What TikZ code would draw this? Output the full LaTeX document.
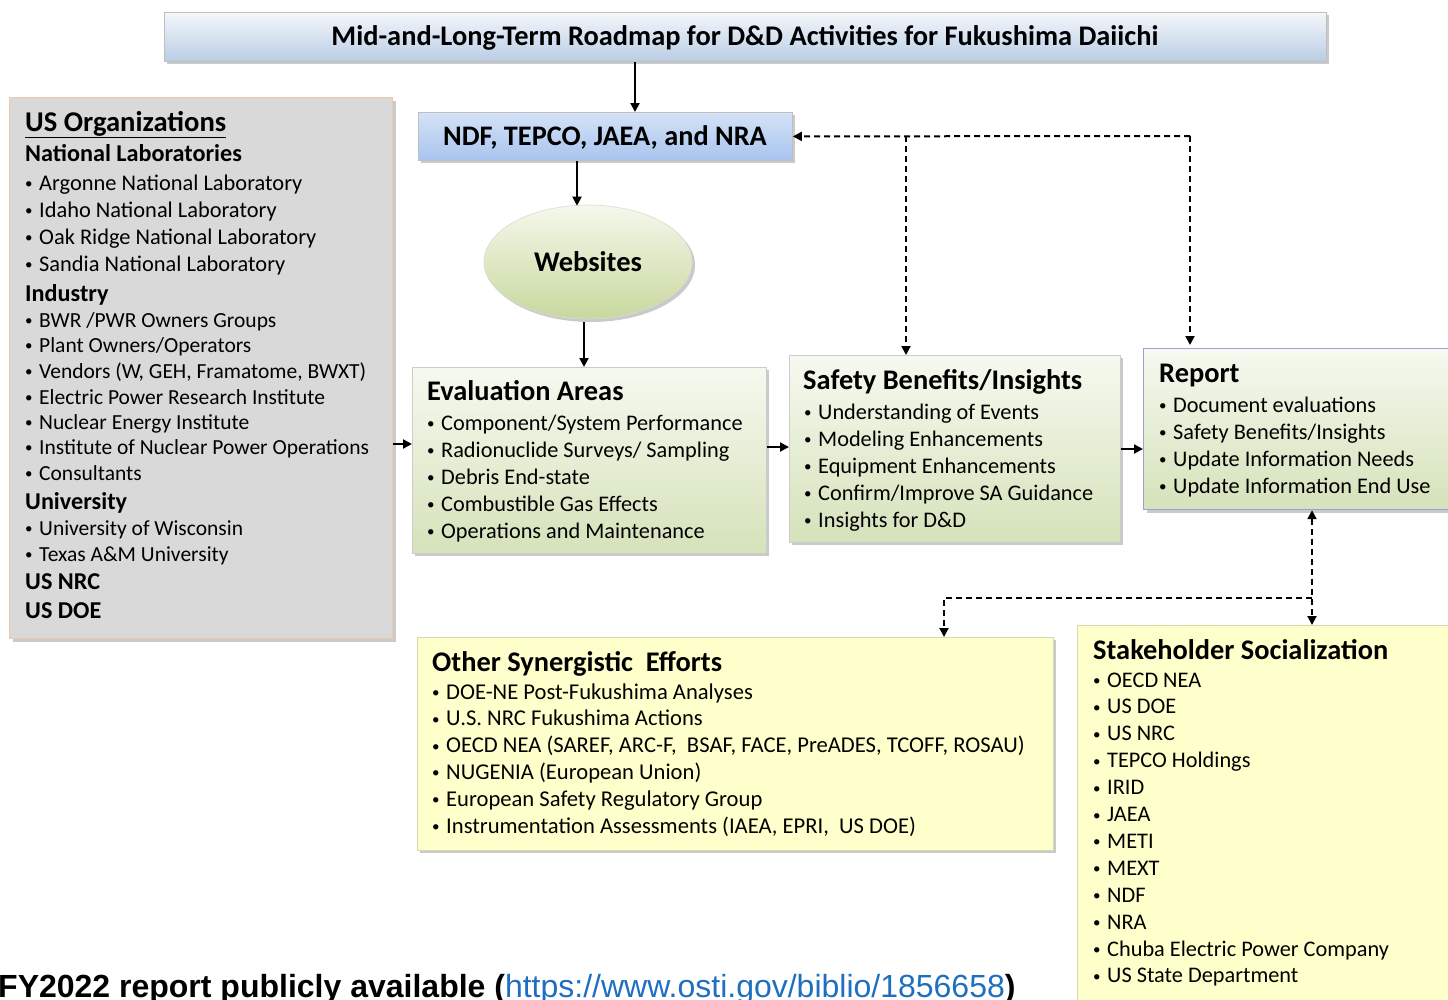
\documentclass[tikz,border=0pt]{standalone}
\usepackage{fontspec}
\setmainfont{Carlito}
\newfontfamily\notefont{Liberation Sans}
\usetikzlibrary{arrows.meta,shadows,shapes.geometric,calc}
\definecolor{titletop}{HTML}{F4F7FB}
\definecolor{titlebot}{HTML}{B9CDE5}
\definecolor{ndftop}{HTML}{D4E2F7}
\definecolor{ndfbot}{HTML}{A8C4EE}
\definecolor{grtop}{HTML}{F6F9EF}
\definecolor{grbot}{HTML}{D5E2BA}
\definecolor{eltop}{HTML}{F5F8EC}
\definecolor{elbot}{HTML}{C8D89E}
\definecolor{grayfill}{HTML}{D9D9D9}
\definecolor{peach}{HTML}{F0C8A8}
\definecolor{yel}{HTML}{FFFFCC}
\definecolor{yelborder}{HTML}{D8D8B0}
\definecolor{lav}{HTML}{9E9EDE}
\definecolor{urlblue}{HTML}{1F6FC0}
\newcommand\bul[1]{\makebox[14pt][l]{\raisebox{1.5pt}{\fontsize{15}{15}\selectfont\textbullet}}#1}
\tikzset{
  shad/.style={drop shadow={shadow xshift=3pt,shadow yshift=-3pt,opacity=0.35,fill=black!60}},
  boxbase/.style={anchor=north west,inner sep=0pt,line width=0.8pt,shad},
  titlebox/.style={boxbase,draw=black!25,top color=titletop,bottom color=titlebot},
  ndfbox/.style={boxbase,draw=black!25,top color=ndftop,bottom color=ndfbot},
  greenbox/.style={boxbase,draw=black!20,top color=grtop,bottom color=grbot},
  reportbox/.style={boxbase,draw=lav,line width=1.2pt,top color=grtop,bottom color=grbot},
  graybox/.style={boxbase,draw=peach,line width=1.2pt,fill=grayfill},
  yelbox/.style={boxbase,draw=yelborder,fill=yel},
  hd/.style={anchor=base west,inner sep=0pt,font=\fontsize{28.4}{32}\selectfont\bfseries},
  sh/.style={anchor=base west,inner sep=0pt,font=\fontsize{24.2}{28}\selectfont\bfseries},
  it/.style={anchor=base west,inner sep=0pt,font=\fontsize{22.3}{26}\selectfont},
  itu/.style={anchor=base west,inner sep=0pt,font=\fontsize{22.4}{26}\selectfont},
  itn/.style={anchor=base west,inner sep=0pt,font=\fontsize{21.5}{25}\selectfont},
  ito/.style={anchor=base west,inner sep=0pt,font=\fontsize{22.6}{26}\selectfont},
  arr/.style={line width=2pt,-{Triangle[length=9pt,width=9pt]}},
  dsh/.style={line width=2pt,dash pattern=on 6pt off 4pt},
  tip/.tip={Triangle[length=9pt,width=9pt]},
}
\begin{document}
\begin{tikzpicture}[x=1pt,y=-1pt]
\useasboundingbox (0,0) rectangle (1448,999);
\clip (0,0) rectangle (1448,999);
% boxes
\node[titlebox,minimum width=1162pt,minimum height=49pt] (title) at (164,12) {};
\node[anchor=base,inner sep=0pt,font=\fontsize{28.4}{32}\selectfont\bfseries] (titletxt) at (745,45) {Mid-and-Long-Term Roadmap for D\&D Activities for Fukushima Daiichi};
\node[ndfbox,minimum width=374pt,minimum height=48pt] (ndf) at (418,112) {};
\node[anchor=base,inner sep=0pt,font=\fontsize{28.3}{32}\selectfont\bfseries] (ndftxt) at (605,145) {NDF, TEPCO, JAEA, and NRA};
\node[ellipse,draw=black!15,line width=0.6pt,top color=eltop,bottom color=elbot,minimum width=208pt,minimum height=114pt,inner sep=0pt,shad,font=\fontsize{28.5}{32}\selectfont\bfseries] (web) at (588,262) {Websites};
\node[graybox,minimum width=383pt,minimum height=541pt] (us) at (9,97) {};
\node[greenbox,minimum width=354pt,minimum height=186pt] (eval) at (412,367) {};
\node[greenbox,minimum width=331pt,minimum height=187pt] (saf) at (789,355) {};
\node[reportbox,minimum width=320pt,minimum height=161pt] (rep) at (1143,348) {};
\node[yelbox,minimum width=636pt,minimum height=213pt] (oth) at (417,637) {};
\node[yelbox,minimum width=380pt,minimum height=390pt] (stk) at (1077,625) {};
% US organizations text
\node[anchor=base west,inner sep=0pt,font=\fontsize{28.6}{32}\selectfont\bfseries] (us0) at (25,131) {\underline{US Organizations}};
\node[sh] (us1) at (25,161) {National Laboratories};
\node[itu] (us2) at (25,190) {\bul{Argonne National Laboratory}};
\node[itu] (us3) at (25,217) {\bul{Idaho National Laboratory}};
\node[itu] (us4) at (25,244) {\bul{Oak Ridge National Laboratory}};
\node[itu] (us5) at (25,271) {\bul{Sandia National Laboratory}};
\node[sh] (us6) at (25,301) {Industry};
\node[itn] (us7) at (25,327) {\bul{BWR /PWR Owners Groups}};
\node[itn] (us8) at (25,352) {\bul{Plant Owners/Operators}};
\node[itn] (us9) at (25,378) {\bul{Vendors (W, GEH, Framatome, BWXT)}};
\node[itn] (us10) at (25,404) {\bul{Electric Power Research Institute}};
\node[itn] (us11) at (25,429) {\bul{Nuclear Energy Institute}};
\node[itn] (us12) at (25,454) {\bul{Institute of Nuclear Power Operations}};
\node[itn] (us13) at (25,480) {\bul{Consultants}};
\node[sh] (us14) at (25,509) {University};
\node[itn] (us15) at (25,535) {\bul{University of Wisconsin}};
\node[itn] (us16) at (25,561) {\bul{Texas A\&M University}};
\node[sh] (us17) at (25,589) {US NRC};
\node[sh] (us18) at (25,618) {US DOE};
% Evaluation areas
\node[hd] (ev0) at (427,400) {Evaluation Areas};
\foreach \t [count=\i] in {{Component/System Performance},{Radionuclide Surveys/ Sampling},{Debris End-state},{Combustible Gas Effects},{Operations and Maintenance}}
  \node[it,name=ev\i] at (427,{430+(\i-1)*27}) {\bul{\t}};
% Safety
\node[hd] (sb0) at (803,389) {Safety Benefits/Insights};
\foreach \t [count=\i] in {{Understanding of Events},{Modeling Enhancements},{Equipment Enhancements},{Confirm/Improve SA Guidance},{Insights for D\&D}}
  \node[it,name=sb\i] at (804,{419+(\i-1)*27}) {\bul{\t}};
% Report
\node[hd] (rp0) at (1159,382) {Report};
\foreach \t [count=\i] in {{Document evaluations},{Safety Benefits/Insights},{Update Information Needs},{Update Information End Use}}
  \node[it,name=rp\i] at (1159,{412+(\i-1)*27}) {\bul{\t}};
% Other synergistic
\node[hd] (os0) at (432,671) {Other Synergistic\ \ Efforts};
\foreach \t [count=\i] in {{DOE-NE Post-Fukushima Analyses},{U.S. NRC Fukushima Actions},{OECD NEA (SAREF, ARC-F,\ \ BSAF, FACE, PreADES, TCOFF, ROSAU)},{NUGENIA (European Union)},{European Safety Regulatory Group},{Instrumentation Assessments (IAEA, EPRI,\ \ US DOE)}}
  \node[ito,name=os\i] at (432,{699+(\i-1)*26.8}) {\bul{\t}};
% Stakeholder
\node[hd] (st0) at (1093,659) {Stakeholder Socialization};
\foreach \t [count=\i] in {{OECD NEA},{US DOE},{US NRC},{TEPCO Holdings},{IRID},{JAEA},{METI},{MEXT},{NDF},{NRA},{Chuba Electric Power Company},{US State Department}}
  \node[it,name=st\i] at (1093,{687+(\i-1)*26.9}) {\bul{\t}};
% bottom note
\node[anchor=base west,inner sep=0pt,font=\notefont\fontsize{32}{35}\selectfont\bfseries] (note) at (-2,997) {FY2022 report publicly available ({\mdseries\color{urlblue}https://www.osti.gov/biblio/1856658})};
% connectors
\coordinate (xa) at (635,0);
\coordinate (xb) at (577,0);
\coordinate (xc) at (584,0);
\coordinate (r1) at (0,444);
\coordinate (r2) at (0,447);
\coordinate (r3) at (0,449);
\draw[arr] (title.south -| xa) -- (ndf.north -| xa);
\draw[arr] (ndf.south -| xb) -- ([yshift=-1pt]web.north -| xb);
\draw[arr] ([yshift=-3pt]web.south -| xc) -- (eval.north -| xc);
\draw[arr] (us.east |- r1) -- (eval.west |- r1);
\draw[arr] (eval.east |- r2) -- (saf.west |- r2);
\draw[arr] (saf.east |- r3) -- (rep.west |- r3);
% dashed feedback
\coordinate (dtop) at (1190,136);
\coordinate (dmid) at (906,136);
\draw[dsh,-tip] (dtop) -- (ndf.east);
\draw[dsh,-tip] (dtop) -- ([yshift=3pt]rep.north -| dtop);
\draw[dsh,-tip] (dmid) -- (saf.north -| dmid);
\coordinate (dv) at (1312,598);
\coordinate (dl) at (944,598);
\draw[dsh,tip-tip] (rep.south -| dv) -- (stk.north -| dv);
\draw[dsh,-tip] (dv) -- (dl) -- (oth.north -| dl);
\end{tikzpicture}
\end{document}
